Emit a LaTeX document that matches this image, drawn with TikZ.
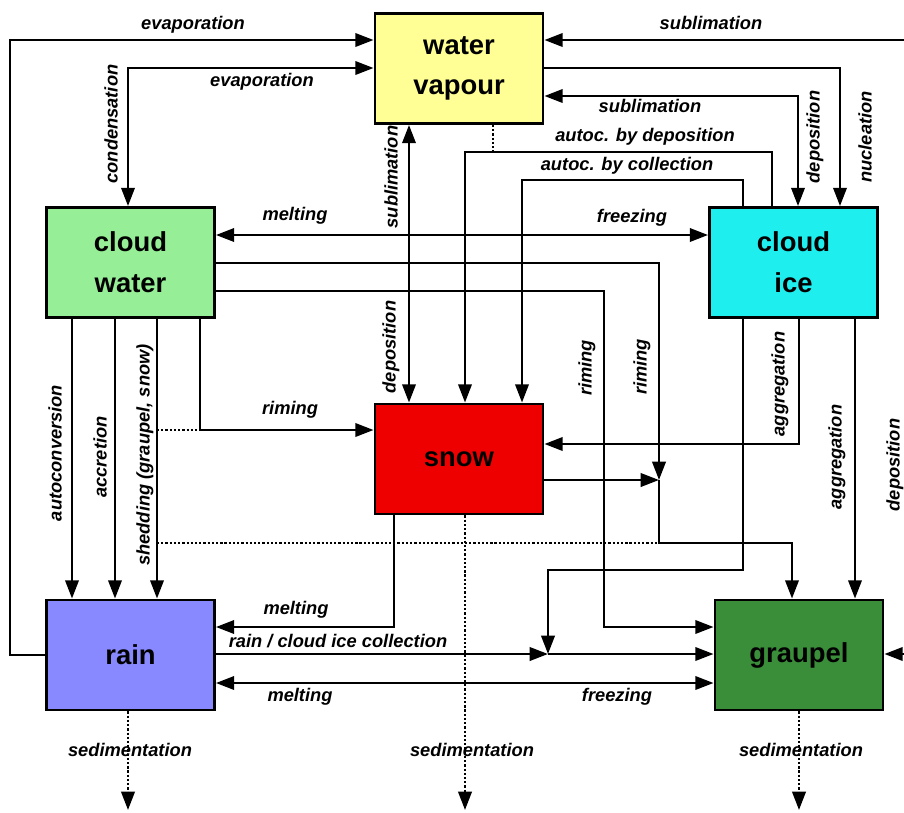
\documentclass[tikz,border=0pt]{standalone}
\usepackage{fontspec}
\setmainfont{Liberation Sans}
\usepackage{tikz}
\usetikzlibrary{arrows.meta}

\definecolor{vapourc}{RGB}{255,255,150}
\definecolor{cwaterc}{RGB}{150,238,150}
\definecolor{cicec}{RGB}{30,238,238}
\definecolor{snowc}{RGB}{238,0,0}
\definecolor{rainc}{RGB}{136,136,255}
\definecolor{graupelc}{RGB}{58,142,58}

\tikzstyle{box}  = [draw,rectangle,line width=2pt,minimum width=4.2cm,minimum height=2.75cm,align=center,font=\bfseries\fontsize{19.5}{29}\selectfont]
\tikzstyle{lab}  = [font=\bfseries\itshape\fontsize{13}{15}\selectfont,inner sep=0pt]
\tikzstyle{vlab} = [lab,rotate=90]
\tikzstyle{sedi} = [dash pattern=on 1.6pt off 1.4pt]

\begin{document}
\begin{tikzpicture}[->,>={Triangle[length=13pt,width=9.5pt]},line width=1.8pt,x=0.025cm,y=-0.025cm]

\useasboundingbox (0,0) rectangle (904,812);

\node[box, fill=vapourc]  (WV) at (459,68.5)  {water\\vapour};
\node[box, fill=cwaterc]  (CW) at (130.5,262.5) {cloud\\water};
\node[box, fill=cicec]    (CI) at (793.5,262.5) {cloud\\ice};
\node[box, fill=snowc]    (SN) at (459,459)   {snow};
\node[box, fill=rainc]    (RA) at (130.5,655) {rain};
\node[box, fill=graupelc] (GR) at (799,655)   {graupel};

\coordinate (eSub) at (904,40);
\coordinate (eDep) at (904,654);
\coordinate (J1) at (659,480);
\coordinate (J2) at (548,654);

\draw (RA.west) -- (10,655) -- (10,40) -- (WV.west |- 0,40);
\draw[<->] (CW.north -| 128,0) -- (128,68) -- (WV.west |- 0,68);
\draw (eSub) -- (WV.east |- 0,40);
\draw (WV.east |- 0,68) -- (840,68) -- (CI.north -| 840,0);
\draw[<->] (WV.east |- 0,96) -- (798,96) -- (CI.north -| 798,0);
\draw[-,sedi] (WV.south -| 493,0) -- (493,152);
\draw (CI.north -| 772,0) -- (772,152) -- (465,152) -- (SN.north -| 465,0);
\draw (CI.north -| 743,0) -- (743,180) -- (522,180) -- (SN.north -| 522,0);
\draw[<->] (WV.south -| 409,0) -- (SN.north -| 409,0);

\draw[<->] (CW.east |- 0,235) -- (CI.west |- 0,235);
\draw (CW.east |- 0,263) -- (659,263) -- (J1);
\draw (SN.east |- 0,480) -- (J1);
\draw (J1) -- (659,543) -- (792,543) -- (GR.north -| 792,0);
\draw (CW.east |- 0,291) -- (604,291) -- (604,627) -- (GR.west |- 0,627);
\draw (CI.south -| 743,0) -- (743,570) -- (548,570) -- (J2);
\draw (CI.south -| 799,0) -- (799,444) -- (SN.east |- 0,444);
\draw (CI.south -| 855,0) -- (GR.north -| 855,0);
\draw (eDep) -- (GR.east |- 0,654);

\draw (CW.south -| 72,0) -- (RA.north -| 72,0);
\draw (CW.south -| 115,0) -- (RA.north -| 115,0);
\draw (CW.south -| 157,0) -- (RA.north -| 157,0);
\draw (CW.south -| 200,0) -- (200,430) -- (SN.west |- 0,430);
\draw[-,sedi] (157,430) -- (200,430);
\draw[-,sedi] (157,543) -- (659,543);

\draw (SN.south -| 394,0) -- (394,627) -- (RA.east |- 0,627);
\draw (RA.east |- 0,654) -- (J2);
\draw (J2) -- (GR.west |- 0,654);
\draw[<->] (RA.east |- 0,683) -- (GR.west |- 0,683);

\draw[sedi] (RA.south -| 128,0) -- (128,810);
\draw[sedi] (SN.south -| 465,0) -- (465,810);
\draw[sedi] (GR.south) -- (GR.south |- 0,810);

\node[lab]  (tEvapA) at (193,25)  {evaporation};
\node[lab]  (tEvapB) at (262,82)  {evaporation};
\node[vlab] (tCond)  at (111,124) {condensation};
\node[lab]  (tSubA)  at (711,23)  {sublimation};
\node[vlab] (tNucl)  at (865,137) {nucleation};
\node[lab]  (tSubB)  at (650,106) {sublimation};
\node[vlab] (tDepA)  at (815,137) {deposition};
\node[lab]  (tAutD)  at (645,137) {autoc. by deposition};
\node[lab]  (tAutC)  at (627,166) {autoc. by collection};
\node[vlab] (tSubC)  at (391,177) {sublimation};
\node[vlab] (tDepB)  at (391,347) {deposition};
\node[lab]  (tMeltA) at (295,216) {melting};
\node[lab]  (tFrzA)  at (632,218) {freezing};
\node[vlab] (tRimA)  at (642,367) {riming};
\node[vlab] (tRimB)  at (587,368) {riming};
\node[vlab] (tAggA)  at (780,384) {aggregation};
\node[vlab] (tAggB)  at (837,457) {aggregation};
\node[vlab] (tDepC)  at (895,465) {deposition};
\node[vlab] (tAuto)  at (55,453)  {autoconversion};
\node[vlab] (tAccr)  at (100,457) {accretion};
\node[vlab] (tShed)  at (145,455) {shedding (graupel, snow)};
\node[lab]  (tRimC)  at (290,410) {riming};
\node[lab]  (tMeltB) at (296,610) {melting};
\node[lab]  (tColl)  at (338,641) {rain / cloud ice collection};
\node[lab]  (tMeltC) at (300,697) {melting};
\node[lab]  (tFrzB)  at (617,697) {freezing};
\node[lab]  (tSedA)  at (130,750) {sedimentation};
\node[lab]  (tSedB)  at (472,750) {sedimentation};
\node[lab]  (tSedC)  at (801,750) {sedimentation};

\end{tikzpicture}
\end{document}
